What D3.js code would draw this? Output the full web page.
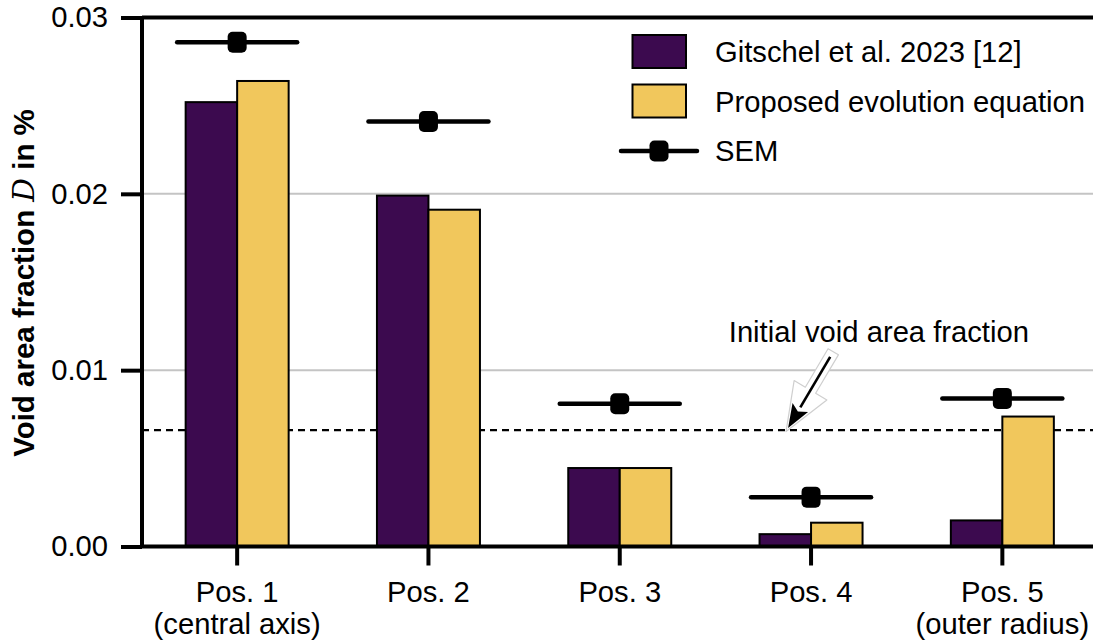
<!DOCTYPE html>
<html>
<head>
<meta charset="utf-8">
<script src="https://cdn.jsdelivr.net/npm/d3@7"></script>
<style>
  html, body { margin: 0; padding: 0; background: #fff; }
  svg { display: block; font-family: "Liberation Sans", Arial, sans-serif; }
</style>
</head>
<body>
<svg id="chart" width="1093" height="640"></svg>
<script>
// Void area fraction per position: measured vs. evolution equation
const categories = ["Pos. 1", "Pos. 2", "Pos. 3", "Pos. 4", "Pos. 5"];
const subLabels = ["(central axis)", "", "", "", "(outer radius)"];
const seriesNames = ["Gitschel et al. 2023 [12]", "Proposed evolution equation"];
const gitschel = [0.0252, 0.0199, 0.00445, 0.0007, 0.00148];
const proposed = [0.0264, 0.0191, 0.00445, 0.00135, 0.00737];
const sem = [0.0286, 0.0241, 0.0081, 0.0028, 0.0084];
const initialFraction = 0.0066;
const yTicks = [0, 0.01, 0.02, 0.03];

const purple = "#3c0a4f";
const yellow = "#f1c75c";
const FS = 29.2;

const svg = d3.select("#chart");
const W = 1093, H = 640;
const pLeft = 142, pTop = 17.5, pBottom = 546.5, pRight = 1098;

const x = d3.scaleBand().domain(categories).range([141.5, pRight]);
const y = d3.scaleLinear().domain([0, 0.03]).range([pBottom, pTop]);
const idx = d3.scaleLinear().domain([0, 4])
  .range([x(categories[0]) + x.bandwidth() / 2, x(categories[4]) + x.bandwidth() / 2]);

const barW = 51.5;

// grid
svg.append("g").selectAll("line").data(yTicks.filter(t => t > 0 && t < 0.03)).join("line")
  .attr("x1", pLeft).attr("x2", W)
  .attr("y1", d => y(d)).attr("y2", d => y(d))
  .attr("stroke", "#c4c4c4").attr("stroke-width", 2);

// initial void fraction reference line
svg.append("line")
  .attr("x1", pLeft).attr("x2", W)
  .attr("y1", y(initialFraction)).attr("y2", y(initialFraction))
  .attr("stroke", "#000").attr("stroke-width", 2.2)
  .attr("stroke-dasharray", "7,5");

// bars
const rows = categories.map((c, i) => ({ c, g: gitschel[i], p: proposed[i], s: sem[i] }));
const cx = d => x(d.c) + x.bandwidth() / 2;
const bars = svg.append("g");
bars.selectAll("rect.g").data(rows).join("rect").attr("class", "g")
  .attr("x", d => cx(d) - barW).attr("width", barW)
  .attr("y", d => y(d.g)).attr("height", d => y(0) - y(d.g))
  .attr("fill", purple).attr("stroke", "#000").attr("stroke-width", 2);
bars.selectAll("rect.p").data(rows).join("rect").attr("class", "p")
  .attr("x", d => cx(d)).attr("width", barW)
  .attr("y", d => y(d.p)).attr("height", d => y(0) - y(d.p))
  .attr("fill", yellow).attr("stroke", "#000").attr("stroke-width", 2);

// SEM markers
const semG = svg.append("g");
semG.selectAll("line").data(rows).join("line")
  .attr("x1", d => cx(d) - 60).attr("x2", d => cx(d) + 60)
  .attr("y1", d => y(d.s)).attr("y2", d => y(d.s))
  .attr("stroke", "#000").attr("stroke-width", 4.5).attr("stroke-linecap", "round");
semG.selectAll("rect").data(rows).join("rect")
  .attr("x", d => cx(d) - 9.5).attr("y", d => y(d.s) - 10.5)
  .attr("width", 19).attr("height", 21).attr("rx", 5)
  .attr("fill", "#000");

// y axis
const yAxis = svg.append("g").attr("transform", `translate(${pLeft},0)`)
  .call(d3.axisLeft(y).tickValues(yTicks).tickFormat(d3.format(".2f")).tickSize(21).tickPadding(13));
yAxis.select(".domain").attr("stroke-width", 4).attr("d", `M0,${pTop}V${pBottom}`);
yAxis.selectAll(".tick line").attr("stroke-width", 4);
yAxis.selectAll(".tick text").attr("font-size", FS).attr("fill", "#000")
  .attr("font-family", "Liberation Sans, Arial, sans-serif");

// top spine
svg.append("line").attr("x1", pLeft).attr("x2", W).attr("y1", pTop).attr("y2", pTop)
  .attr("stroke", "#000").attr("stroke-width", 4);

// x axis
const xAxis = svg.append("g").attr("transform", `translate(0,${pBottom})`)
  .call(d3.axisBottom(x).tickSize(19).tickFormat(""));
xAxis.select(".domain").attr("stroke-width", 4).attr("d", `M${pLeft},0H${pRight}`);
xAxis.selectAll(".tick line").attr("stroke-width", 4);
const xl = svg.append("g").attr("font-size", FS).attr("text-anchor", "middle");
xl.selectAll("text.main").data(categories).join("text").attr("class", "main")
  .attr("x", d => x(d) + x.bandwidth() / 2).attr("y", 601.5).text(d => d);
xl.selectAll("text.sub").data(categories.map((c, i) => ({ c, s: subLabels[i] })).filter(d => d.s)).join("text")
  .attr("class", "sub")
  .attr("x", d => x(d.c) + x.bandwidth() / 2).attr("y", 633.5).text(d => d.s);

// y label
const yl = svg.append("text")
  .attr("transform", `translate(34,283) rotate(-90)`)
  .attr("text-anchor", "middle").attr("font-size", 29.5).attr("font-weight", "bold");
yl.append("tspan").text("Void area fraction ");
yl.append("tspan").attr("font-family", "DejaVu Serif, serif").attr("font-style", "italic")
  .attr("font-weight", "normal").text("D");
yl.append("tspan").text(" in %");

// annotation
const tip = [idx(2.88), y(initialFraction) - 2];
const tail = [idx(3.1), y(0.01075)];
(function arrow() {
  const dx = tip[0] - tail[0], dy = tip[1] - tail[1];
  const L = Math.hypot(dx, dy), ux = dx / L, uy = dy / L, nx = -uy, ny = ux;
  const pt = (a, b) => [tail[0] + ux * a + nx * b, tail[1] + uy * a + ny * b];
  const hw = 6, hl = 44, hh = 19;
  const outline = [pt(-6, -hw), pt(L - hl, -hw), pt(L - hl, -hh), pt(L + 4, 0),
    pt(L - hl, hh), pt(L - hl, hw), pt(-6, hw)];
  svg.append("path")
    .attr("d", d3.line().curve(d3.curveLinearClosed)(outline))
    .attr("fill", "#fff").attr("stroke", "#cfcfcf").attr("stroke-width", 1.2)
    .attr("stroke-linejoin", "round");
  const hL = 24, hW = 9;
  const base = pt(L - hL, 0);
  svg.append("line")
    .attr("x1", tail[0]).attr("y1", tail[1]).attr("x2", base[0]).attr("y2", base[1])
    .attr("stroke", "#000").attr("stroke-width", 2.6);
  svg.append("path")
    .attr("d", d3.line().curve(d3.curveLinearClosed)([pt(L, 0), pt(L - hL, -hW), pt(L - hL * 0.8, 0), pt(L - hL, hW)]))
    .attr("fill", "#000");
})();
svg.append("text").attr("x", idx(2.57)).attr("y", y(0.0116))
  .attr("font-size", FS).text("Initial void area fraction");

// legend
const lg = svg.append("g").attr("font-size", FS);
const swatchX = 632.5, textX = 715;
[purple, yellow].forEach((col, i) => {
  const cy = [51.5, 101][i];
  lg.append("rect").attr("x", swatchX).attr("y", cy - 16.5).attr("width", 53.5).attr("height", 33)
    .attr("fill", col).attr("stroke", "#000").attr("stroke-width", 2);
  lg.append("text").attr("x", textX).attr("y", cy + 10.5).text(seriesNames[i]);
});
lg.append("line").attr("x1", 621).attr("x2", 697).attr("y1", 151).attr("y2", 151)
  .attr("stroke", "#000").attr("stroke-width", 4.5).attr("stroke-linecap", "round");
lg.append("rect").attr("x", 649.5).attr("y", 140.5).attr("width", 19).attr("height", 21).attr("rx", 5).attr("fill", "#000");
lg.append("text").attr("x", textX).attr("y", 161).text("SEM");
</script>
</body>
</html>
